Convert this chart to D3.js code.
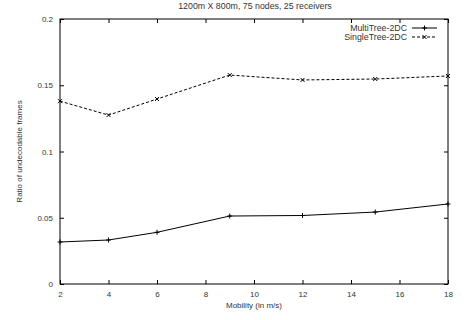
<!DOCTYPE html>
<html><head><meta charset="utf-8">
<script src="https://cdn.jsdelivr.net/npm/d3@7"></script>
<style>body{margin:0;background:#fff}svg{display:block}text{font-family:"Liberation Sans",Arial,sans-serif;fill:#333}</style>
</head><body><svg id="c" width="474" height="320"></svg>
<script>
const mobility = [2, 4, 6, 9, 12, 15, 18];
const multiTree = [0.0317, 0.0332, 0.039, 0.0513, 0.0517, 0.0543, 0.0604];
const singleTree = [0.138, 0.1275, 0.1396, 0.1577, 0.154, 0.1547, 0.157];
const xTicks = [2, 4, 6, 8, 10, 12, 14, 16, 18];
const yTicks = [0, 0.05, 0.1, 0.15, 0.2];
const yTickLabels = ["0", "0.05", "0.1", "0.15", "0.2"];
const seriesNames = ["MultiTree-2DC", "SingleTree-2DC"];
const title = "1200m X 800m, 75 nodes, 25 receivers";
const xLabel = "Mobility (in m/s)";
const yLabel = "Ratio of undecodable frames";

const svg = d3.select("#c");
const L = 60, R = 448, T = 19, B = 284;
const x = d3.scaleLinear().domain([2, 18]).range([L, R]);
const y = d3.scaleLinear().domain([0, 0.2]).range([B, T]);
const fs = 8;

// axes
const gx = svg.append("g").attr("transform", `translate(0,${B})`)
  .call(d3.axisBottom(x).tickValues(xTicks).tickSize(-4).tickPadding(7).tickFormat(d3.format("d")));
const gxt = svg.append("g").attr("transform", `translate(0,${T})`)
  .call(d3.axisTop(x).tickValues(xTicks).tickSize(-4).tickFormat(""));
const gy = svg.append("g").attr("transform", `translate(${L},0)`)
  .call(d3.axisLeft(y).tickValues(yTicks).tickSize(-4).tickPadding(7).tickFormat((d, i) => yTickLabels[i]));
const gyr = svg.append("g").attr("transform", `translate(${R},0)`)
  .call(d3.axisRight(y).tickValues(yTicks).tickSize(-4).tickFormat(""));
[gx, gxt, gy, gyr].forEach(g => {
  g.select(".domain").remove();
  g.selectAll("line").attr("stroke", "#000");
  g.selectAll("text").attr("font-size", fs).attr("fill", "#333").style("font-family", "Liberation Sans, Arial, sans-serif");
});
svg.append("rect").attr("x", L).attr("y", T).attr("width", R - L).attr("height", B - T)
  .attr("fill", "none").attr("stroke", "#000").attr("stroke-width", 1);

// labels
svg.append("text").attr("x", 255).attr("y", 9).attr("text-anchor", "middle").attr("font-size", 8.8).text(title);
svg.append("text").attr("x", 254).attr("y", 308).attr("text-anchor", "middle").attr("font-size", fs).text(xLabel);
svg.append("text").attr("transform", `translate(22,${(T + B) / 2}) rotate(-90)`).attr("text-anchor", "middle").attr("font-size", fs).text(yLabel);

const line = d3.line().x(d => x(d[0])).y(d => y(d[1]));
const plus = (g, cx, cy) => g.append("path").attr("d", `M${cx-2.5},${cy}h5M${cx},${cy-2.5}v5`).attr("stroke", "#000").attr("stroke-width", 1);
const cross = (g, cx, cy) => g.append("path").attr("d", `M${cx-2},${cy-2}l4,4M${cx-2},${cy+2}l4,-4`).attr("stroke", "#000").attr("stroke-width", 1);

const d1 = mobility.map((m, i) => [m, multiTree[i]]);
const d2 = mobility.map((m, i) => [m, singleTree[i]]);
svg.append("path").attr("d", line(d1)).attr("fill", "none").attr("stroke", "#000").attr("stroke-width", 1);
svg.append("path").attr("d", line(d2)).attr("fill", "none").attr("stroke", "#000").attr("stroke-width", 1).attr("stroke-dasharray", "3,2");
const gm = svg.append("g");
d1.forEach(d => plus(gm, x(d[0]), y(d[1])));
d2.forEach(d => cross(gm, x(d[0]), y(d[1])));

// legend
const lg = svg.append("g");
[0, 1].forEach(i => {
  const ly = 28 + i * 9;
  lg.append("text").attr("x", 407).attr("y", ly + 3).attr("text-anchor", "end").attr("font-size", 8.8).text(seriesNames[i]);
  lg.append("line").attr("x1", 412).attr("x2", 437).attr("y1", ly).attr("y2", ly).attr("stroke", "#000")
    .attr("stroke-dasharray", i ? "3,2" : null);
  if (i) cross(lg, 424.5, ly); else plus(lg, 424.5, ly);
});
</script></body></html>
